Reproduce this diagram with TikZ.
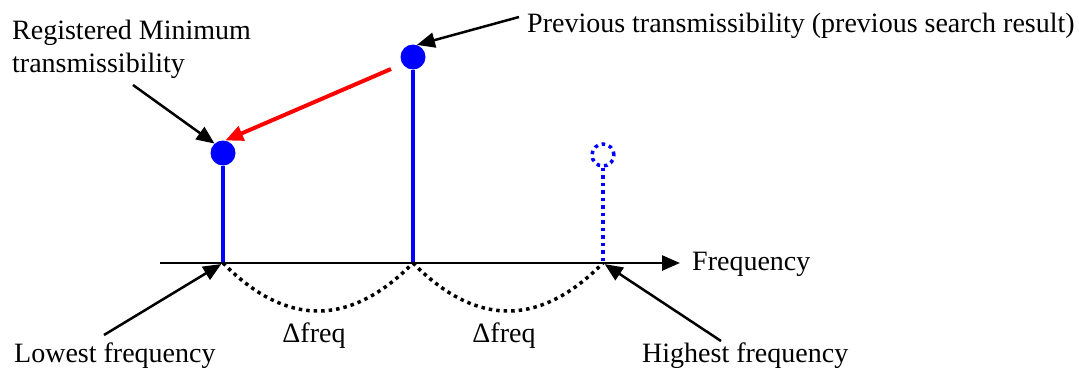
\documentclass[tikz,border=0pt]{standalone}
\usepackage{fontspec}
\setmainfont{Liberation Serif}
\usetikzlibrary{arrows.meta}
\begin{document}
\begin{tikzpicture}[x=1pt,y=-1pt,
  lbl/.style={font=\fontsize{28}{33}\selectfont, inner sep=0pt},
  dot/.style={circle, fill=blue, minimum size=25pt, inner sep=0pt},
  dotempty/.style={circle, draw=blue, line width=3.5pt, dash pattern=on 3.5pt off 4pt, minimum size=22pt, inner sep=0pt},
  stem/.style={blue, line width=3.5pt},
  ptr/.style={line width=2.5pt, -{Triangle[length=18pt,width=15pt]}},
  redptr/.style={red, line width=4pt, -{Triangle[length=18pt,width=15pt]}},
  gap/.style={line width=3.5pt, dash pattern=on 3.5pt off 4pt}]
\useasboundingbox (0,0) rectangle (1079,367);
% base points on the axis
\coordinate (b1) at (223,263);
\coordinate (b2) at (413,263);
\coordinate (b3) at (603,263);
\coordinate (axs) at (160,263);
\coordinate (axe) at (680,263);
% circles
\node[dot] (c1) at (223,153) {};
\node[dot] (c2) at (413,57) {};
\node[dotempty] (c3) at (603,155) {};
% stems
\draw[stem] (c1.south) -- (b1);
\draw[stem] (c2.south) -- (b2);
\draw[stem, dash pattern=on 3.5pt off 4pt] (c3.south) -- (b3);
% axis
\draw[ptr] (axs) -- (axe);
% dotted spans
\draw[gap] (b1) .. controls (286,327) and (350,327) .. (b2);
\draw[gap] (b2) .. controls (476,327) and (540,327) .. (b3);
% labels
\node[lbl, anchor=north west, align=left] (reg) at (12,20) {Registered Minimum\\transmissibility};
\node[lbl, anchor=base west] (prev) at (527,32) {Previous transmissibility (previous search result)};
\node[lbl, anchor=base west] (freq) at (692,270) {Frequency};
\node[lbl, anchor=base west] (low) at (14,362) {Lowest frequency};
\node[lbl, anchor=base west] (high) at (642,362) {Highest frequency};
\node[lbl, anchor=base] (d1) at (314,342) {Δfreq};
\node[lbl, anchor=base] (d2) at (504,342) {Δfreq};
% pointers
\coordinate (regtail) at (133,85);
\coordinate (prevtail) at (519,17);
\coordinate (redtail) at (391,69);
\coordinate (lowtail) at (104,335);
\coordinate (hightail) at (721,341);
\draw[ptr] (regtail) -- (c1.132);
\draw[ptr] (prevtail) -- (c2.72);
\draw[redptr] (redtail) -- (c1.80);
\draw[ptr, shorten >=2pt] (lowtail) -- (b1);
\draw[ptr, shorten >=2pt] (hightail) -- (b3);
\end{tikzpicture}
\end{document}
